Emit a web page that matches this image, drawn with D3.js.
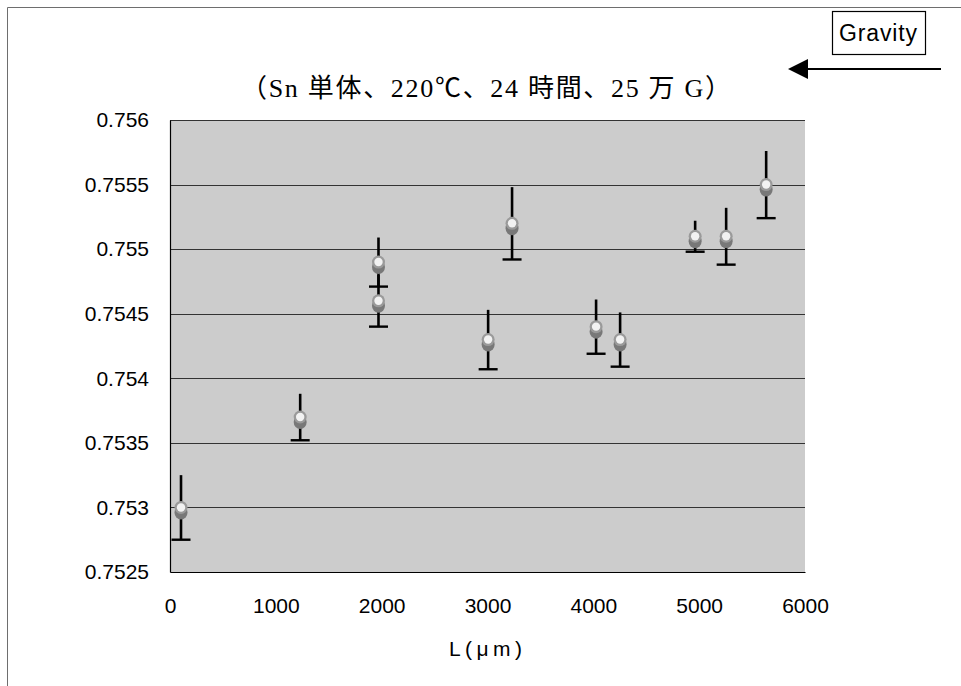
<!DOCTYPE html>
<html>
<head>
<meta charset="utf-8">
<script src="https://cdn.jsdelivr.net/npm/d3@7"></script>
<style>
  html, body { margin: 0; padding: 0; background: #fff; }
  svg { display: block; }
</style>
</head>
<body>
<svg id="chart" width="961" height="686"></svg>
<script>
// ---- data ----
const lengths = [104, 1230, 1970, 1970, 3006, 3232, 4026, 4253, 4962, 5255, 5633];
const ratios  = [0.7530, 0.7537, 0.7549, 0.7546, 0.7543, 0.7552, 0.7544, 0.7543, 0.7551, 0.7551, 0.7555];
const errors  = [0.00025, 0.00018, 0.00019, 0.00020, 0.00023, 0.00028, 0.00021, 0.00021, 0.00012, 0.00022, 0.00026];
const xTicks  = [0, 1000, 2000, 3000, 4000, 5000, 6000];
const yTicks  = [0.7525, 0.753, 0.7535, 0.754, 0.7545, 0.755, 0.7555, 0.756];
const titleText = "（Sn 単体、220℃、24 時間、25 万 G）";
const xTitle = "L(μm)";
const gravityText = "Gravity";

const svg = d3.select("#chart");
const plot = { left: 170, right: 805, top: 120, bottom: 572 };

const x = d3.scaleLinear().domain([0, 6000]).range([plot.left, plot.right]);
const y = d3.scaleLinear().domain([0.7525, 0.756]).range([plot.bottom, plot.top]);

// outer frame (top & left lines)
svg.append("line").attr("x1", 7.5).attr("y1", 7.5).attr("x2", 961).attr("y2", 7.5)
  .attr("stroke", "#6e6e6e").attr("stroke-width", 1);
svg.append("line").attr("x1", 7.5).attr("y1", 7.5).attr("x2", 7.5).attr("y2", 686)
  .attr("stroke", "#6e6e6e").attr("stroke-width", 1);

// plot area background
svg.append("rect")
  .attr("x", plot.left).attr("y", plot.top)
  .attr("width", plot.right - plot.left).attr("height", plot.bottom - plot.top)
  .attr("fill", "#cccccc");

// gridlines
svg.append("g").selectAll("line").data(yTicks.filter(d => d > 0.7525)).join("line")
  .attr("x1", plot.left).attr("x2", plot.right)
  .attr("y1", d => Math.round(y(d)) + 0.5).attr("y2", d => Math.round(y(d)) + 0.5)
  .attr("stroke", "#333").attr("stroke-width", 1);

// axes
const fmt = d => String(+d.toFixed(4));
const yAxis = svg.append("g").attr("transform", `translate(${plot.left},0)`)
  .call(d3.axisLeft(y).tickValues(yTicks).tickFormat(fmt).tickSize(0).tickPadding(21));
yAxis.select(".domain").attr("stroke", "#000").attr("stroke-width", 1.2);
yAxis.selectAll("text").attr("font-family", "'Liberation Sans', Arial, sans-serif")
  .attr("font-size", 21).attr("fill", "#000");

const xAxis = svg.append("g").attr("transform", `translate(0,${plot.bottom})`)
  .call(d3.axisBottom(x).tickValues(xTicks).tickFormat(d3.format("d")).tickSize(0).tickPadding(26));
xAxis.select(".domain").attr("stroke", "#000").attr("stroke-width", 1.2);
xAxis.selectAll("text").attr("font-family", "'Liberation Sans', Arial, sans-serif")
  .attr("font-size", 21).attr("fill", "#000");

// error bars
const eb = svg.append("g");
eb.selectAll("line.v").data(lengths).join("line").attr("class", "v")
  .attr("x1", (d, i) => x(d)).attr("x2", (d, i) => x(d))
  .attr("y1", (d, i) => y(ratios[i] + errors[i]))
  .attr("y2", (d, i) => y(ratios[i] - errors[i]))
  .attr("stroke", "#000").attr("stroke-width", 2.6);
eb.selectAll("line.c").data(lengths).join("line").attr("class", "c")
  .attr("x1", (d, i) => x(d) - 9.5).attr("x2", (d, i) => x(d) + 9.5)
  .attr("y1", (d, i) => y(ratios[i] - errors[i]))
  .attr("y2", (d, i) => y(ratios[i] - errors[i]))
  .attr("stroke", "#000").attr("stroke-width", 2.4);

// markers with shadow
const mk = svg.append("g");
mk.selectAll("ellipse.s").data(lengths).join("ellipse").attr("class", "s")
  .attr("cx", d => x(d)).attr("cy", (d, i) => y(ratios[i]) + 5)
  .attr("rx", 6.5).attr("ry", 7).attr("fill", "#787878");
mk.selectAll("circle.m").data(lengths).join("circle").attr("class", "m")
  .attr("cx", d => x(d)).attr("cy", (d, i) => y(ratios[i]))
  .attr("r", 6.5).attr("fill", "#9a9a9a");
mk.selectAll("circle.w").data(lengths).join("circle").attr("class", "w")
  .attr("cx", d => x(d)).attr("cy", (d, i) => y(ratios[i]))
  .attr("r", 4.2).attr("fill", "#f2f2f2");

// title
svg.append("text").attr("x", 241).attr("y", 97)
  .attr("font-family", "'Liberation Serif', 'Noto Sans CJK JP', serif")
  .attr("font-size", 26).attr("fill", "#000")
  .attr("textLength", 490).attr("lengthAdjust", "spacing")
  .text(titleText);

// x axis title
svg.append("text").attr("x", 449).attr("y", 656)
  .attr("font-family", "'Liberation Sans', 'Noto Sans CJK JP', sans-serif")
  .attr("font-size", 21).attr("fill", "#000")
  .attr("textLength", 73).attr("lengthAdjust", "spacing")
  .text(xTitle);

// gravity box
svg.append("rect").attr("x", 832.5).attr("y", 11.5).attr("width", 93).attr("height", 43)
  .attr("fill", "#fff").attr("stroke", "#000").attr("stroke-width", 1.2);
svg.append("text").attr("x", 839).attr("y", 41)
  .attr("font-family", "'Liberation Sans', Arial, sans-serif")
  .attr("font-size", 23).attr("fill", "#000")
  .attr("textLength", 78).attr("lengthAdjust", "spacing")
  .text(gravityText);

// arrow
svg.append("line").attr("x1", 941).attr("y1", 69).attr("x2", 806).attr("y2", 69)
  .attr("stroke", "#000").attr("stroke-width", 2);
svg.append("path").attr("d", "M788,69 L808,59 L808,79 Z").attr("fill", "#000");
</script>
</body>
</html>
